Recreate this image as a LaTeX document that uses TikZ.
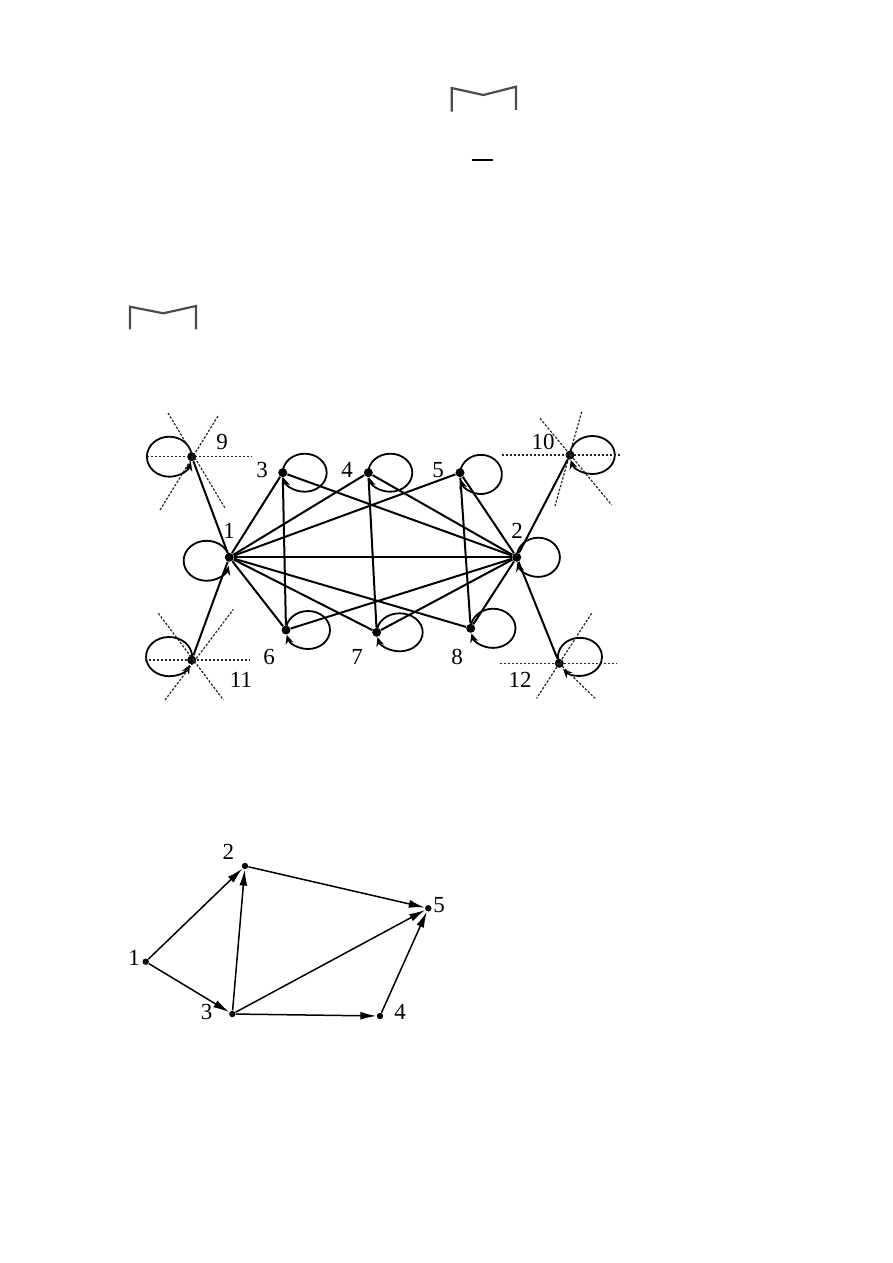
\documentclass[tikz,border=0pt]{standalone}
\usepackage{fontspec}
\setmainfont{Liberation Serif}
\usetikzlibrary{arrows.meta, positioning}

\tikzset{
  dot/.style      = {circle, fill, inner sep=0pt, minimum size=4.5pt},
  smalldot/.style = {circle, fill, inner sep=0pt, minimum size=3.2pt},
  lbl/.style      = {inner sep=0pt, font=\fontsize{11.5}{13}\selectfont},
  edge/.style     = {line width=1pt},
  selfloop/.style = {line width=0.9pt, -{Stealth[length=4.5pt, width=4pt]}},
  guide/.style    = {line width=0.6pt, black!85, dash pattern=on 1.2pt off 0.8pt},
  arcto/.style    = {line width=0.75pt, -{Latex[length=8pt, width=4pt]}},
  bracketline/.style = {line width=1.1pt, black!70},
}

\begin{document}
\begin{tikzpicture}[x=5pt, y=-5pt]
  % page, traced in units of 10px
  \useasboundingbox (0,0) rectangle (89.3,126.3);

  % Marks at the top
  \draw[bracketline] (45.17,11.17) -- (45.17,8.8) -- (48.33,9.5) -- (51.6,8.67) -- (51.6,11.0);
  \draw[line width=1.1pt]  (47.17,16.0) -- (49.33,16.0);
  \draw[bracketline] (13.0,32.93) -- (13.0,30.67) -- (16.33,31.33) -- (19.6,30.6) -- (19.6,32.93);

  % Big graph: vertices
  \node[dot] (n1)  at (22.93,55.73) {};
  \node[dot] (n2)  at (51.67,55.73) {};
  \node[dot] (n3)  at (28.27,47.27) {};
  \node[dot] (n4)  at (36.83,47.27) {};
  \node[dot] (n5)  at (46.00,47.27) {};
  \node[dot] (n6)  at (28.60,63.00) {};
  \node[dot] (n7)  at (37.67,63.23) {};
  \node[dot] (n8)  at (47.07,62.83) {};
  \node[dot] (n9)  at (19.17,45.67) {};
  \node[dot] (n10) at (57.00,45.50) {};
  \node[dot] (n11) at (19.17,66.00) {};
  \node[dot] (n12) at (55.93,66.33) {};

  % Big graph: labels
  \node[lbl] (t1)  at (22.9,53.1) {1};
  \node[lbl] (t2)  at (51.7,53.1) {2};
  \node[lbl] (t3)  at (26.2,47.0) {3};
  \node[lbl] (t4)  at (34.7,47.0) {4};
  \node[lbl] (t5)  at (43.8,47.0) {5};
  \node[lbl] (t6)  at (26.9,65.7) {6};
  \node[lbl] (t7)  at (35.7,65.7) {7};
  \node[lbl] (t8)  at (45.7,65.7) {8};
  \node[lbl] (t9)  at (22.2,44.2) {9};
  \node[lbl] (t10) at (54.3,44.2) {10};
  \node[lbl] (t11) at (24.1,68.0) {11};
  \node[lbl] (t12) at (52.0,68.0) {12};

  % Big graph: edges
  \draw[edge] (n9)  -- (n1);
  \draw[edge] (n11) -- (n1);
  \draw[edge] (n10) -- (n2);
  \draw[edge] (n12) -- (n2);
  \draw[edge] (n1) -- (n3);
  \draw[edge] (n1) -- (n4);
  \draw[edge] (n1) -- (n5);
  \draw[edge] (n1) -- (n2);
  \draw[edge] (n1) -- (n6);
  \draw[edge] (n1) -- (n7);
  \draw[edge] (n1) -- (n8);
  \draw[edge] (n3) -- (n6);
  \draw[edge] (n4) -- (n7);
  \draw[edge] (n5) -- (n8);
  \draw[edge] (n3) -- (n2);
  \draw[edge] (n4) -- (n2);
  \draw[edge] (n5) -- (n2);
  \draw[edge] (n6) -- (n2);
  \draw[edge] (n7) -- (n2);
  \draw[edge] (n8) -- (n2);

  % Self loops (left ones turn counter-clockwise, right ones clockwise)
  \draw[selfloop] (n1.center)  arc[start angle=10,  end angle=345, x radius=11.5pt, y radius=10pt];
  \draw[selfloop] (n9.center)  arc[start angle=0,   end angle=345, x radius=11.2pt, y radius=10pt];
  \draw[selfloop] (n11.center) arc[start angle=-10, end angle=335, x radius=11.5pt, y radius=9.8pt];
  \draw[selfloop] (n2.center)  arc[start angle=180, end angle=-165, x radius=10.8pt, y radius=9.8pt];
  \draw[selfloop] (n3.center)  arc[start angle=180, end angle=-165, x radius=11pt, y radius=9.5pt];
  \draw[selfloop] (n4.center)  arc[start angle=180, end angle=-165, x radius=11pt, y radius=9.5pt];
  \draw[selfloop] (n5.center)  arc[start angle=175, end angle=-165, x radius=10.5pt, y radius=9.8pt];
  \draw[selfloop] (n6.center)  arc[start angle=180, end angle=-165, x radius=11pt, y radius=9.5pt];
  \draw[selfloop] (n7.center)  arc[start angle=180, end angle=-165, x radius=11.5pt, y radius=9.5pt];
  \draw[selfloop] (n8.center)  arc[start angle=180, end angle=-165, x radius=11.2pt, y radius=9.8pt];
  \draw[selfloop] (n10.center) arc[start angle=180, end angle=-165, x radius=11.2pt, y radius=9.5pt];
  \draw[selfloop] (n12.center) arc[start angle=200, end angle=-140, x radius=11pt, y radius=9.5pt];

  % Dotted stars at the outer vertices
  \draw[guide] (n9.center)  ++(-4.5,0)    -- ++(10.5,0);
  \draw[guide] (n9.center)  ++(-2.37,-4.37) -- ++(5.7,9.5);
  \draw[guide] (n9.center)  ++(-3.17,5.33)  -- ++(5.8,-9.4);
  \draw[guide] (n10.center) ++(-6.83,0)   -- ++(11.83,0);
  \draw[guide] (n10.center) ++(-3.0,-3.67) -- ++(7.17,8.67);
  \draw[guide] (n10.center) ++(1.17,-4.33) -- ++(-2.67,9.43);
  \draw[guide] (n11.center) ++(-4.67,0)   -- ++(10.5,0);
  \draw[guide] (n11.center) ++(-3.33,-4.67) -- ++(6.5,8.67);
  \draw[guide] (n11.center) ++(-2.67,4.0)  -- ++(6.84,-9.07);
  \draw[guide] (n12.center) ++(-5.93,0)   -- ++(11.66,0);
  \draw[guide] (n12.center) ++(3.23,-5.0)  -- ++(-5.5,8.5);
  \draw[guide] (n12.center) -- ++(3.57,3.5);

  % Small directed graph
  \node[smalldot] (m1) at (14.57,96.17) {};
  \node[smalldot] (m2) at (24.50,86.60) {};
  \node[smalldot] (m3) at (23.23,101.40) {};
  \node[smalldot] (m4) at (38.00,101.60) {};
  \node[smalldot] (m5) at (42.83,90.83) {};

  \node[lbl] (s1) at (13.4,95.8)   {1};
  \node[lbl] (s2) at (22.83,85.2) {2};
  \node[lbl] (s3) at (20.67,101.2) {3};
  \node[lbl] (s4) at (40.0,101.2) {4};
  \node[lbl] (s5) at (43.9,90.5)  {5};

  \draw[arcto] (m1) -- (m2);
  \draw[arcto] (m1) -- (m3);
  \draw[arcto] (m3) -- (m2);
  \draw[arcto] (m2) -- (m5);
  \draw[arcto] (m3) -- (m5);
  \draw[arcto] (m3) -- (m4);
  \draw[arcto] (m4) -- (m5);
\end{tikzpicture}
\end{document}
